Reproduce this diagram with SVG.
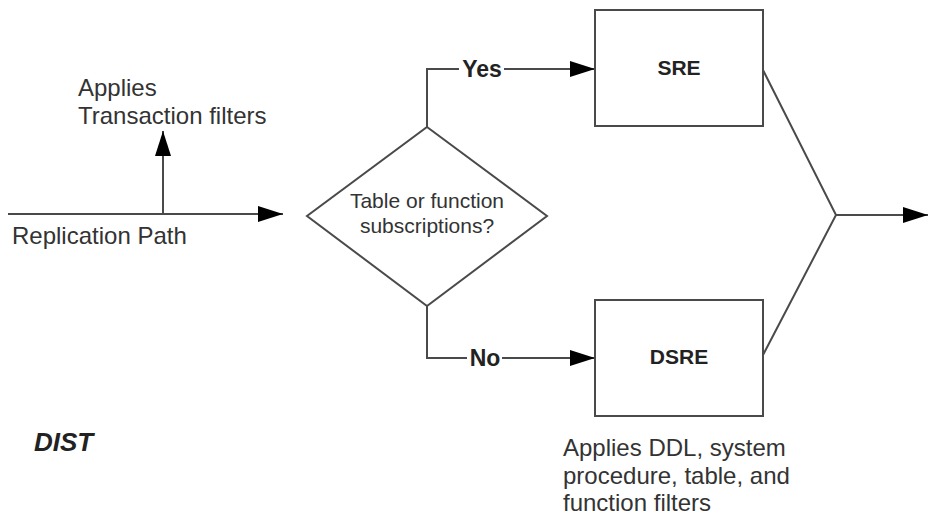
<svg xmlns="http://www.w3.org/2000/svg" width="930" height="518" viewBox="0 0 930 518">
<style>
.ln{fill:none;stroke:#4a4a4a;stroke-width:2}
.box{fill:#fff;stroke:#4a4a4a;stroke-width:2}
.t{font-family:"Liberation Sans",Arial,sans-serif;font-size:24px;fill:#333}
.d{font-family:"Liberation Sans",Arial,sans-serif;font-size:21px;fill:#333}
.b{font-family:"Liberation Sans",Arial,sans-serif;font-weight:bold;fill:#222}
</style>
<defs>
<marker id="ah" markerUnits="userSpaceOnUse" markerWidth="25" markerHeight="16" viewBox="0 0 25 16" refX="25" refY="8" orient="auto">
<path d="M0,0 L25,8 L0,16 z" fill="#000"/>
</marker>
</defs>
<rect width="930" height="518" fill="#fff"/>
<g id="connectors">
<path class="ln" d="M8,214 H283" marker-end="url(#ah)"/>
<path class="ln" d="M163,214 V131" marker-end="url(#ah)"/>
<path class="ln" d="M427,127 V69 H459 M504,69 H595" marker-end="url(#ah)"/>
<path class="ln" d="M427,306 V358 H467 M502,358 H595" marker-end="url(#ah)"/>
<path class="ln" d="M763,70 L836,215 L763,355"/>
<path class="ln" d="M836,215 H928" marker-end="url(#ah)"/>
<text class="b" x="482" y="77" font-size="23" text-anchor="middle">Yes</text>
<text class="b" x="485" y="366" font-size="23" text-anchor="middle">No</text>
</g>
<g id="path-labels">
<text class="t" x="78" y="96">Applies</text>
<text class="t" x="78" y="124">Transaction filters</text>
<text class="t" x="12" y="244">Replication Path</text>
</g>
<g id="decision">
<polygon class="box" points="427,127 547,216 427,306 307,216"/>
<text class="d" x="427" y="208" text-anchor="middle">Table or function</text>
<text class="d" x="427" y="233" text-anchor="middle">subscriptions?</text>
</g>
<g id="sre">
<rect class="box" x="595" y="10" width="168" height="116"/>
<text class="b" x="679" y="75" font-size="21" text-anchor="middle">SRE</text>
</g>
<g id="dsre">
<rect class="box" x="595" y="300" width="168" height="116"/>
<text class="b" x="679" y="364" font-size="21" text-anchor="middle">DSRE</text>
</g>
<g id="dsre-note">
<text class="t" x="563" y="456">Applies DDL, system</text>
<text class="t" x="563" y="484">procedure, table, and</text>
<text class="t" x="563" y="511">function filters</text>
</g>
<g id="dist">
<text class="b" x="34" y="451" font-size="26" font-style="italic">DIST</text>
</g>
</svg>
